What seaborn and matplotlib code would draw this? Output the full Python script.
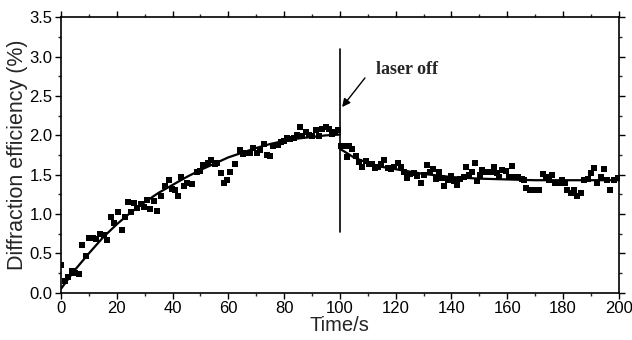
import numpy as np
import pandas as pd
import matplotlib
matplotlib.use("Agg")
import matplotlib.pyplot as plt
import seaborn as sns
from matplotlib.ticker import MultipleLocator

# measured points (time in s, diffraction efficiency in %)
time_s = [0, 1.6, 2.6, 3.8, 5.2, 6.4, 7.7, 8.8, 10, 11.3, 12.4, 13.9, 15.3, 16.5, 17.9, 19, 20.5,
          21.7, 22.8, 24.1, 25.1, 26.3, 27.4, 28.6, 29.7, 30.9, 32, 33.4, 34.4, 35.8, 37.3, 38.7,
          39.9, 41, 41.9, 43, 44.2, 45.3, 47.1, 48.8, 50, 51.1, 52.6, 53.7, 55.2, 56, 57.2, 58.3,
          59.5, 60.6, 62.4, 64.1, 65.3, 66.4, 67.6, 69, 70.2, 71.3, 72.8, 73.9, 75.1, 76.2, 77.7,
          78.8, 80, 81.2, 82.3, 83.5, 84.6, 85.8, 86.6, 87.8, 88.9, 90.1, 91.3, 92.4, 93.6, 95,
          96.2, 97.3, 98.2, 99.4,
          100.5, 101.6, 102.5, 103.4, 104.5, 105.7, 106.9, 108, 109.2, 110.3, 111.5, 112.6, 113.7,
          114.9, 116, 117.2, 118.4, 119.5, 120.7, 121.8, 123, 124.1, 125.3, 126.5, 127.6, 129.1,
          130.2, 131.1, 132.3, 133.4, 134.3, 135.4, 136.6, 137.5, 138.6, 139.8, 140.9, 142.1,
          143.2, 144.4, 145.3, 146.4, 147.3, 148.4, 149.3, 150.2, 151, 151.9, 153, 154.2, 155.1,
          156.2, 157.1, 158.3, 159.4, 160.6, 161.7, 162.9, 164, 165.2, 166.1, 166.9, 168.1, 169.2,
          170.4, 171.5, 172.7, 173.8, 175, 176.2, 177.3, 178.5, 179.6, 180.8, 181.6, 182.8, 183.9,
          185.1, 186.3, 187.7, 188.9, 190, 191.2, 192.3, 193.5, 194.7, 195.8, 197, 198.2, 199.6]
efficiency = [0.35, 0.15, 0.20, 0.27, 0.25, 0.24, 0.61, 0.47, 0.70, 0.69, 0.68, 0.75, 0.73, 0.67,
              0.96, 0.88, 1.02, 0.80, 0.96, 1.15, 1.03, 1.14, 1.08, 1.13, 1.09, 1.18, 1.06, 1.17,
              1.04, 1.23, 1.36, 1.43, 1.32, 1.30, 1.23, 1.47, 1.36, 1.40, 1.38, 1.53, 1.55, 1.62,
              1.65, 1.69, 1.64, 1.65, 1.52, 1.40, 1.43, 1.53, 1.64, 1.81, 1.76, 1.78, 1.77, 1.84,
              1.78, 1.81, 1.89, 1.75, 1.74, 1.86, 1.88, 1.92, 1.93, 1.97, 1.96, 1.97, 2.01, 2.10,
              1.99, 2.04, 2.01, 1.99, 2.07, 1.99, 2.08, 2.10, 2.08, 2.02, 2.04, 2.07,
              1.87, 1.86, 1.73, 1.86, 1.83, 1.74, 1.66, 1.60, 1.67, 1.64, 1.63, 1.58, 1.60, 1.64,
              1.69, 1.58, 1.57, 1.60, 1.65, 1.60, 1.53, 1.46, 1.51, 1.52, 1.48, 1.40, 1.49, 1.62,
              1.53, 1.57, 1.44, 1.53, 1.46, 1.36, 1.43, 1.48, 1.42, 1.37, 1.45, 1.47, 1.60, 1.49,
              1.53, 1.65, 1.42, 1.49, 1.56, 1.54, 1.53, 1.54, 1.60, 1.52, 1.47, 1.56, 1.55, 1.47,
              1.61, 1.47, 1.47, 1.45, 1.43, 1.33, 1.31, 1.30, 1.30, 1.30, 1.51, 1.47, 1.43, 1.50,
              1.40, 1.39, 1.43, 1.40, 1.31, 1.27, 1.31, 1.23, 1.27, 1.43, 1.45, 1.52, 1.58, 1.40,
              1.47, 1.57, 1.43, 1.31, 1.43, 1.46]

# fitted curves
rise_t = [0, 5, 10, 15, 20, 25, 30, 35, 40, 45, 50, 55, 60, 65, 70, 75, 80, 85, 90, 95, 100]
rise_v = [0.05, 0.29, 0.50, 0.70, 0.87, 1.02, 1.15, 1.27, 1.37, 1.47, 1.56, 1.64, 1.72, 1.78,
          1.84, 1.89, 1.93, 1.96, 1.98, 2.00, 2.01]
decay_t = [100, 105, 110, 115, 120, 125, 130, 140, 150, 160, 170, 180, 190, 200]
decay_v = [1.83, 1.72, 1.65, 1.60, 1.57, 1.54, 1.51, 1.47, 1.45, 1.44, 1.43, 1.43, 1.43, 1.43]

laser_off_t = 100
laser_line_v = [0.77, 3.10]

sns.set_theme(style="ticks")
plt.rcParams['font.family'] = ['Liberation Sans', 'DejaVu Sans']

fig = plt.figure(figsize=(6.32, 3.40), dpi=100)
ax = fig.add_axes([0.0965, 0.139, 0.8825, 0.810])

pts = pd.DataFrame({"t": time_s, "v": efficiency})
sns.scatterplot(data=pts, x="t", y="v", marker="s", s=17, color="black",
                edgecolor="black", linewidth=0, ax=ax, zorder=3)
sns.lineplot(x=rise_t, y=rise_v, color="black", linewidth=1.6, ax=ax)
sns.lineplot(x=decay_t, y=decay_v, color="black", linewidth=1.6, ax=ax)
ax.plot([laser_off_t, laser_off_t], laser_line_v, color="black", linewidth=1.2)

ax.text(113.0, 2.84, "laser off", fontsize=13, fontweight="bold", family="Liberation Serif",
        va="center", ha="left")
ax.annotate("", xy=(100.8, 2.36), xytext=(109.0, 2.73),
            arrowprops=dict(arrowstyle="-|>", color="black", lw=1.0,
                            mutation_scale=12, shrinkA=0, shrinkB=0))

ax.set_xlim(0, 200)
ax.set_ylim(0, 3.5)
ax.xaxis.set_major_locator(MultipleLocator(20))
ax.xaxis.set_minor_locator(MultipleLocator(10))
ax.yaxis.set_minor_locator(MultipleLocator(0.25))
ax.set_yticks(np.arange(0, 3.51, 0.5))
ax.set_yticklabels([f"{v:.1f}" for v in np.arange(0, 3.51, 0.5)])

ax.tick_params(which="major", direction="out", length=4, width=1, labelsize=12, pad=2,
               colors="black")
ax.tick_params(which="minor", direction="out", length=2.5, width=1)
ax.tick_params(which="both", top=True, right=True)
for s in ax.spines.values():
    s.set_visible(True)
    s.set_color("black")
    s.set_linewidth(1.2)

ax.set_xlabel("Time/s", fontsize=14.5, labelpad=0)
ax.set_ylabel("Diffraction efficiency (%)", fontsize=15.5, labelpad=1)

fig.savefig("out.png", dpi=100)
